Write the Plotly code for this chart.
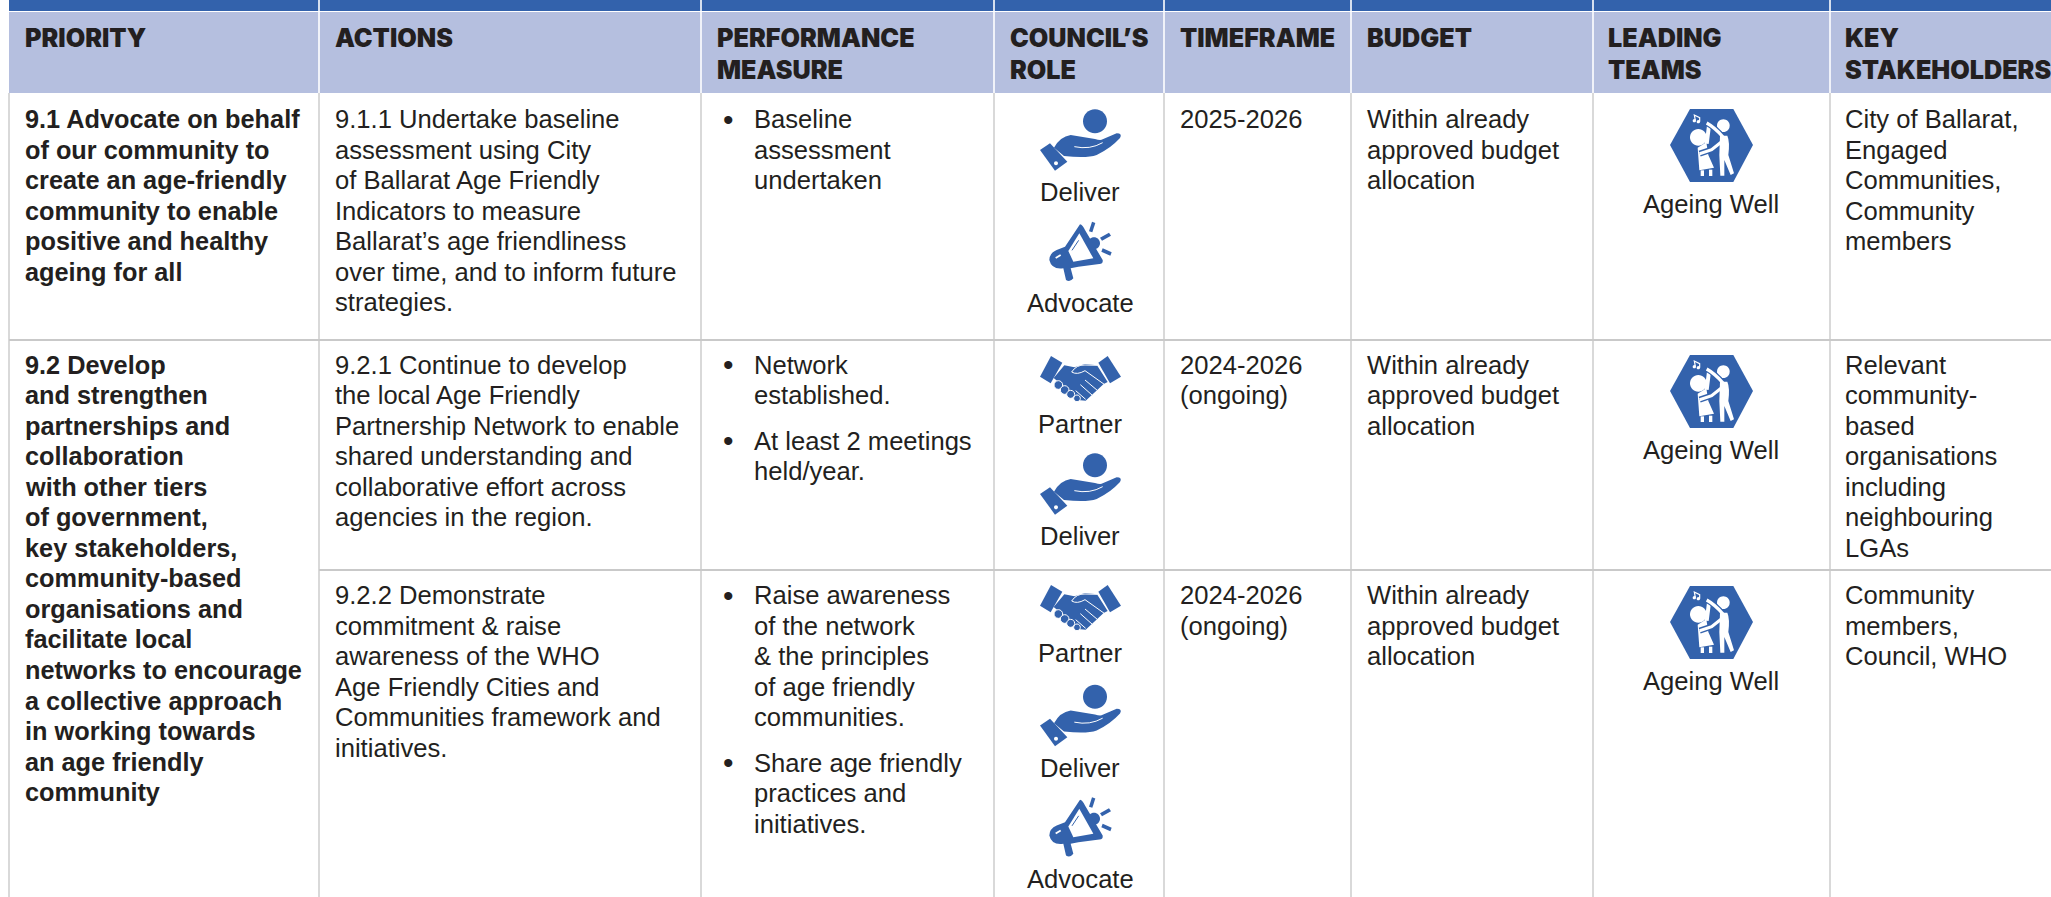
import re
import plotly.graph_objects as go

W, H = 2051, 897
BLUE = "#3362AC"; HEAD = "#B5BFDF"; INK = "#231F20"; RULE = "#C9C9C9"
BODY = "Liberation Sans"; HFONT = "Inter"
BODY_SIZE = 25.6; BOLD_SIZE = 25.3; HEAD_SIZE = 25.2; PITCH = 30.55

# ---- table content
headers = [["PRIORITY"], ["ACTIONS"], ["PERFORMANCE", "MEASURE"], ["COUNCIL’S", "ROLE"],
           ["TIMEFRAME"], ["BUDGET"], ["LEADING", "TEAMS"], ["KEY", "STAKEHOLDERS"]]
priority_91 = ["9.1 Advocate on behalf", "of our community to", "create an age-friendly",
               "community to enable", "positive and healthy", "ageing for all"]
priority_92 = ["9.2 Develop", "and strengthen", "partnerships and", "collaboration",
               "with other tiers", "of government,", "key stakeholders,", "community-based",
               "organisations and", "facilitate local", "networks to encourage",
               "a collective approach", "in working towards", "an age friendly", "community"]
action_911 = ["9.1.1 Undertake baseline", "assessment using City", "of Ballarat Age Friendly",
              "Indicators to measure", "Ballarat’s age friendliness",
              "over time, and to inform future", "strategies."]
action_921 = ["9.2.1 Continue to develop", "the local Age Friendly",
              "Partnership Network to enable", "shared understanding and",
              "collaborative effort across", "agencies in the region."]
action_922 = ["9.2.2 Demonstrate", "commitment & raise", "awareness of the WHO",
              "Age Friendly Cities and", "Communities framework and", "initiatives."]
measure_911 = [["Baseline", "assessment", "undertaken"]]
measure_921 = [["Network", "established."], ["At least 2 meetings", "held/year."]]
measure_922 = [["Raise awareness", "of the network", "& the principles", "of age friendly",
                "communities."], ["Share age friendly", "practices and", "initiatives."]]
timeframe = [["2025-2026"], ["2024-2026", "(ongoing)"], ["2024-2026", "(ongoing)"]]
budget = ["Within already", "approved budget", "allocation"]
team = "Ageing Well"
stakeholders = [["City of Ballarat,", "Engaged", "Communities,", "Community", "members"],
                ["Relevant", "community-", "based", "organisations", "including",
                 "neighbouring", "LGAs"],
                ["Community", "members,", "Council, WHO"]]

# ---- layout grid (pixels of the page)
COLS = [9, 319, 701, 994, 1164, 1351, 1593, 1830, 2051]
TXT = [25, 335, 717, 1010, 1180, 1367, 1608, 1845]
ROWS = [93, 340, 570, 897]
LINE1 = [119, 364.5, 595]

shapes, notes = [], []

def rect(x0, y0, x1, y1, color):
    shapes.append(dict(type="rect", x0=x0, y0=y0, x1=x1, y1=y1, fillcolor=color,
                       line=dict(width=0), layer="below"))

def rule(x0, y0, x1, y1, w=1.4):
    shapes.append(dict(type="line", x0=x0, y0=y0, x1=x1, y1=y1,
                       line=dict(color=RULE, width=w), layer="below"))

def text(x, y, s, size=BODY_SIZE, family=BODY, anchor="left", weight=400):
    notes.append(dict(x=x, y=y, text=s, showarrow=False, xanchor=anchor, yanchor="middle",
                      borderpad=0, borderwidth=0,
                      font=dict(family=family, size=size, color=INK, weight=weight)))

def block(x, y, lines, bold=False):
    for i, s in enumerate(lines):
        text(x, y + i * PITCH, s, size=BOLD_SIZE if bold else BODY_SIZE,
             weight=700 if bold else 400)

def bullets(x, y, groups, gap=15):
    for g in groups:
        text(x, y, "•", size=30)
        block(x + 30.5, y, g)
        y += PITCH * len(g) + gap

# ---- icons: SVG path strings in zoom-crop pixels, scaled by 1/3 and moved to place
def place(path, ox, oy, fill=BLUE, stroke=None, w=0):
    def f(m):
        return f"{ox + float(m.group(1)) / 3:.2f},{oy + float(m.group(2)) / 3:.2f}"
    d = re.sub(r"(-?\d+\.?\d*),(-?\d+\.?\d*)", f, path)
    shapes.append(dict(type="path", path=d, xref="x", yref="y", layer="above",
                       fillcolor=fill if fill else "rgba(0,0,0,0)",
                       line=dict(color=stroke if stroke else "rgba(0,0,0,0)", width=w)))

def disc(cx, cy, r):
    k = 0.5523 * r
    return (f"M{cx - r},{cy} C{cx - r},{cy - k} {cx - k},{cy - r} {cx},{cy - r} "
            f"C{cx + k},{cy - r} {cx + r},{cy - k} {cx + r},{cy} "
            f"C{cx + r},{cy + k} {cx + k},{cy + r} {cx},{cy + r} "
            f"C{cx - k},{cy + r} {cx - r},{cy + k} {cx - r},{cy} Z")

def deliver(dy):
    ox, oy = 980, 80 + dy
    place(disc(345, 124, 36), ox, oy)
    place("M180,210 L210,190 L262,245 L225,272 Z", ox, oy)
    place(disc(228, 250, 6), ox, oy, fill="white")
    place("M222,203 Q240,170 272,165 L345,177 Q362,183 368,178 L410,160 Q428,160 420,174 "
          "Q392,205 350,225 Q320,236 252,228 Z", ox, oy)
    place("M283,200 Q330,210 368,188", ox, oy, fill=None, stroke="white", w=1)
    text(1080, 80 + dy + 112, "Deliver", anchor="center")

def advocate(dy):
    ox, oy = 1040, 215 + dy
    place(disc(162, 85, 18), ox, oy)
    place("M120,28 Q128,30 135,45 L188,135 Q190,147 178,147 L115,155 L92,160 L100,190 "
          "Q90,203 78,195 L70,160 Q35,165 28,135 Q28,115 50,105 L75,95 Z", ox, oy)
    place("M118,55 L160,130 L100,140 L85,108 Z", ox, oy, fill="white")
    place("M96,106 L116,76", ox, oy, fill=None, stroke=BLUE, w=1)
    place("M47,129 L62,120", ox, oy, fill=None, stroke="white", w=1.8)
    place("M156,20 L166,24 L157,52 L147,49 Z", ox, oy)
    place("M207,53 L213,62 L186,77 L180,68 Z", ox, oy)
    place("M188,100 L215,112 L211,122 L184,110 Z", ox, oy)
    text(1080, 80 + dy + 223, "Advocate", anchor="center")

def partner(dy):
    ox, oy = 1035, 350 + dy
    place("M48,18 L82,38 L47,100 L15,80 Z", ox, oy)
    place("M218,18 L258,80 L225,100 L190,38 Z", ox, oy)
    place("M88,46 L118,52 L150,42 L186,46 L218,96 L206,102 L152,152 L128,150 L66,92 L56,84 Z",
          ox, oy)
    place("M110,66 Q124,44 150,45 L188,46", ox, oy, fill=None, stroke="white", w=1)
    place("M110,66 Q126,76 150,62 L212,106", ox, oy, fill=None, stroke="white", w=1)
    for seg in ("M150,90 L188,122", "M136,104 L172,136", "M122,122 L152,148"):
        place(seg, ox, oy, fill=None, stroke="white", w=1)
    for cx, cy, r in ((70, 105, 13), (89, 120, 13), (107, 133, 12), (126, 145, 10)):
        place(disc(cx, cy, r), ox, oy, stroke="white", w=1)
    text(1080, 340 + dy + 84, "Partner", anchor="center")

def ageing(dy):
    ox, oy = 1665, 105 + dy
    place("M75,12 L205,12 L264,120 L205,231 L75,231 L15,120 Z", ox, oy)
    # child
    place(disc(100, 97, 25), ox, oy, fill="white")
    place("M98,128 L124,112 L130,150 L147,188 L103,196 Z", ox, oy, fill="white")
    place("M107,196 L117,196 L117,213 L107,213 Z", ox, oy, fill="white")
    place("M132,194 L142,194 L142,213 L132,213 Z", ox, oy, fill="white")
    place("M132,62 L125,116", ox, oy, fill=None, stroke="white", w=4)
    # adult
    place(disc(175, 62, 19), ox, oy, fill="white")
    place("M170,110 L140,134 L104,146", ox, oy, fill=None, stroke=BLUE, w=6)
    place("M170,110 L140,134 L104,146", ox, oy, fill=None, stroke="white", w=3.2)
    place("M125,54 Q150,68 174,96", ox, oy, fill=None, stroke=BLUE, w=5.5)
    place("M125,54 Q150,68 174,96", ox, oy, fill=None, stroke="white", w=3.2)
    place("M165,92 L187,92 Q195,110 190,150 L207,205 L197,210 L178,165 L178,212 L166,212 "
          "L163,150 Z", ox, oy, fill="white")
    # notes
    place(disc(88, 47, 5), ox, oy, fill="white")
    place(disc(100, 50, 5), ox, oy, fill="white")
    place("M91,46 L88,30 L104,38 L104,50", ox, oy, fill=None, stroke="white", w=1.2)
    text(1711, 90 + dy + 114, team, anchor="center")

# ---- table frame
rect(COLS[0], 0, W, 11, BLUE)
rect(COLS[0], 12, W, ROWS[0], HEAD)
for x in COLS[1:-1]:
    rect(x - 0.8, 0, x + 0.8, ROWS[0] + 1, "white")
rule(COLS[0], ROWS[0], COLS[0], H)
for x in COLS[1:-1]:
    rule(x, ROWS[0], x, H)
rule(COLS[0], ROWS[1], W, ROWS[1], 2)
rule(COLS[1], ROWS[2], W, ROWS[2], 2)

# ---- header
for x, lines in zip(TXT, headers):
    for i, s in enumerate(lines):
        text(x, 38 + i * 32, s, size=HEAD_SIZE, family=HFONT, weight=900)

# ---- cells
block(TXT[0], LINE1[0], priority_91, bold=True)
block(TXT[0], LINE1[1], priority_92, bold=True)
for y, lines in zip(LINE1, [action_911, action_921, action_922]):
    block(TXT[1], y, lines)
for y, groups in zip(LINE1, [measure_911, measure_921, measure_922]):
    bullets(723, y, groups)
for y, lines in zip(LINE1, timeframe):
    block(TXT[4], y, lines)
for y in LINE1:
    block(TXT[5], y, budget)
for y, lines in zip(LINE1, stakeholders):
    block(TXT[7], y, lines)

deliver(0); advocate(0)
partner(0); deliver(344)
partner(229); deliver(575.5); advocate(575.5)
for dy in (0, 246, 477):
    ageing(dy)

fig = go.Figure()
fig.update_layout(width=W, height=H, margin=dict(l=0, r=0, t=0, b=0),
                  paper_bgcolor="white", plot_bgcolor="white", showlegend=False,
                  xaxis=dict(range=[0, W], visible=False, fixedrange=True),
                  yaxis=dict(range=[H, 0], visible=False, fixedrange=True),
                  shapes=shapes, annotations=notes)
fig.write_html("out.html", config=dict(displayModeBar=False),
               post_script="document.body.style.margin='0';document.documentElement.style.overflow='hidden';")
